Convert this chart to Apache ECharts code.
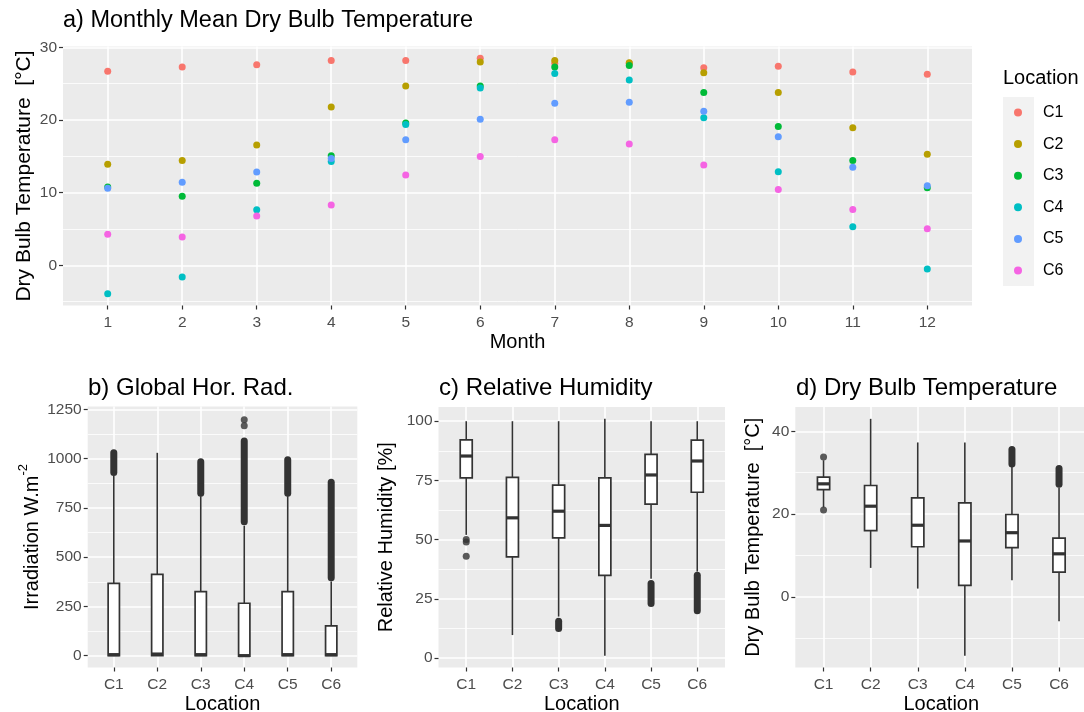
<!DOCTYPE html>
<html>
<head>
<meta charset="utf-8">
<script src="https://cdn.jsdelivr.net/npm/echarts@6/dist/echarts.min.js"></script>
<style>
  html, body { margin: 0; padding: 0; background: #ffffff; }
  #chart { width: 1084px; height: 712px; }
</style>
</head>
<body>
<div id="chart"></div>
<script>
// ---- Monthly mean dry bulb temperature (°C) per location ----
const months = [1, 2, 3, 4, 5, 6, 7, 8, 9, 10, 11, 12];
const locations = ['C1', 'C2', 'C3', 'C4', 'C5', 'C6'];
const locationColors = ['#F8766D', '#B79F00', '#00BA38', '#00BFC4', '#619CFF', '#F564E3'];

const meanTempC1 = [26.7, 27.3, 27.6, 28.2, 28.2, 28.5, 27.8, 27.8, 27.2, 27.4, 26.6, 26.3];
const meanTempC2 = [13.9, 14.45, 16.55, 21.8, 24.7, 28.0, 28.2, 27.9, 26.5, 23.8, 18.95, 15.3];
const meanTempC3 = [10.8, 9.5, 11.3, 15.1, 19.6, 24.7, 27.3, 27.5, 23.8, 19.1, 14.45, 10.7];
const meanTempC4 = [-3.9, -1.6, 7.65, 14.3, 19.4, 24.4, 26.4, 25.5, 20.3, 12.9, 5.3, -0.5];
const meanTempC5 = [10.6, 11.45, 12.85, 14.7, 17.3, 20.1, 22.3, 22.45, 21.2, 17.7, 13.5, 10.95];
const meanTempC6 = [4.3, 3.9, 6.8, 8.3, 12.45, 15.0, 17.3, 16.7, 13.8, 10.45, 7.7, 5.05];
const meanTempByLocation = [meanTempC1, meanTempC2, meanTempC3, meanTempC4, meanTempC5, meanTempC6];

// ---- Box statistics: [lower whisker, Q1, median, Q3, upper whisker] ----
const ghiBoxStats = [
  [0, 0, 5, 367, 915],
  [0, 0, 8, 413, 1030],
  [0, 0, 5, 325, 810],
  [-3, -3, 0, 266, 660],
  [0, 0, 5, 325, 810],
  [0, 0, 5, 151, 377]
];
// runs of overlapping outliers: [location index, lowest, highest]
const ghiOutlierRuns = [[0, 930, 1030], [2, 825, 985], [3, 680, 1090], [4, 825, 995], [5, 395, 880]];
const ghiOutlierPoints = [[3, 1168], [3, 1198]];

const rhBoxStats = [
  [52, 76.1, 85.3, 92.1, 100],
  [9.7, 42.7, 59.2, 76.3, 100],
  [17.5, 50.7, 62, 73, 100],
  [1, 34.9, 56, 76.1, 101],
  [33.5, 65, 77.3, 86, 100],
  [36.5, 70, 83.2, 92, 100]
];
const rhOutlierRuns = [[2, 12.5, 15.5], [4, 23, 31.5], [5, 20, 35]];
const rhOutlierPoints = [[0, 49], [0, 50], [0, 43]];

const dbtBoxStats = [
  [21.6, 25.9, 27.3, 28.9, 33.0],
  [7.0, 16.0, 21.9, 26.9, 43.0],
  [2.0, 12.1, 17.3, 23.9, 37.3],
  [-14.2, 2.8, 13.5, 22.7, 37.3],
  [4.0, 11.9, 15.5, 19.9, 31.7],
  [-5.9, 6.0, 10.4, 14.2, 26.4]
];
const dbtOutlierRuns = [[4, 32.1, 35.6], [5, 27.2, 31.0]];
const dbtOutlierPoints = [[0, 33.8], [0, 21.0]];

// ---- Tick values ----
const tempMajorTicks = [0, 10, 20, 30];
const tempMinorTicks = [-5, 5, 15, 25];
const ghiMajorTicks = [0, 250, 500, 750, 1000, 1250];
const ghiMinorTicks = [125, 375, 625, 875, 1125];
const rhMajorTicks = [0, 25, 50, 75, 100];
const rhMinorTicks = [12.5, 37.5, 62.5, 87.5];
const dbtMajorTicks = [0, 20, 40];
const dbtMinorTicks = [-10, 10, 30];
const locationTicks = [1, 2, 3, 4, 5, 6];

// ---- Styling ----
const FONT = "'Liberation Sans', Arial, sans-serif";
const PANEL_BG = '#EBEBEB';
const TICK_TEXT = '#4D4D4D';
const INK = '#333333';
const BOX_WIDTH_RATIO = 0.26;

const chart = echarts.init(document.getElementById('chart'), null, { renderer: 'canvas' });

function xAxisFor(gridIndex, min, max, ticks, name, formatter, nameGap, nameSize) {
  return {
    type: 'value', gridIndex, min, max,
    name, nameLocation: 'middle', nameGap,
    nameTextStyle: { color: '#000', fontSize: nameSize, fontFamily: FONT },
    axisLine: { show: false, onZero: false },
    axisTick: { show: true, customValues: ticks, length: 4, lineStyle: { color: INK, width: 1.2 } },
    axisLabel: { customValues: ticks, formatter, color: TICK_TEXT, fontSize: 15.5, fontFamily: FONT, margin: 9 },
    splitLine: { show: true, lineStyle: { color: '#ffffff', width: 1.6 } },
    minorSplitLine: { show: false }
  };
}

function yMajorAxis(gridIndex, min, max, ticks, name, nameGap, nameSize, rich, extra) {
  return Object.assign({
    type: 'value', gridIndex, min, max,
    name, nameLocation: 'middle', nameGap, nameRotate: 90,
    nameTextStyle: { color: '#000', fontSize: nameSize, fontFamily: FONT, rich },
    axisLine: { show: false, onZero: false },
    axisTick: { show: true, customValues: ticks, length: 4, lineStyle: { color: INK, width: 1.2 } },
    axisLabel: { customValues: ticks, formatter: v => String(v), color: TICK_TEXT, fontSize: 15.5, fontFamily: FONT, margin: 6 },
    splitLine: { show: true, lineStyle: { color: '#ffffff', width: 1.6 } }
  }, extra || {});
}

function yMinorAxis(gridIndex, min, max, ticks) {
  return {
    type: 'value', gridIndex, min, max,
    axisLine: { show: false, onZero: false },
    axisTick: { show: false, customValues: ticks },
    axisLabel: { show: false, customValues: ticks },
    splitLine: { show: true, lineStyle: { color: '#ffffff', width: 0.8 } }
  };
}

function boxRenderItem(params, api) {
  const x = api.value(0);
  const pts = [1, 2, 3, 4, 5].map(d => api.coord([x, api.value(d)]));
  const bw = api.size([1, 0])[0] * BOX_WIDTH_RATIO;
  const cx = pts[0][0];
  const stroke = { stroke: INK, lineWidth: 1.6 };
  return {
    type: 'group',
    children: [
      { type: 'line', shape: { x1: cx, y1: pts[0][1], x2: cx, y2: pts[1][1] }, style: stroke },
      { type: 'line', shape: { x1: cx, y1: pts[3][1], x2: cx, y2: pts[4][1] }, style: stroke },
      { type: 'rect', shape: { x: cx - bw / 2, y: pts[3][1], width: bw, height: pts[1][1] - pts[3][1] },
        style: { fill: '#ffffff', stroke: INK, lineWidth: 1.7 } },
      { type: 'line', shape: { x1: cx - bw / 2, y1: pts[2][1], x2: cx + bw / 2, y2: pts[2][1] },
        style: { stroke: INK, lineWidth: 3.2 } }
    ]
  };
}

function runRenderItem(params, api) {
  const x = api.value(0);
  const a = api.coord([x, api.value(1)]);
  const b = api.coord([x, api.value(2)]);
  return {
    type: 'line',
    shape: { x1: a[0], y1: a[1], x2: b[0], y2: b[1] },
    style: { stroke: INK, lineWidth: 7, lineCap: 'round' }
  };
}

function boxSeries(xAxisIndex, yAxisIndex, stats, runs, points) {
  return [
    {
      type: 'custom', xAxisIndex, yAxisIndex, silent: true, z: 3,
      renderItem: runRenderItem,
      encode: { x: 0, y: [1, 2] },
      data: runs.map(r => [r[0] + 1, r[1], r[2]])
    },
    {
      type: 'scatter', xAxisIndex, yAxisIndex, silent: true, z: 3,
      symbolSize: 7, itemStyle: { color: INK },
      data: points.map(p => [p[0] + 1, p[1]])
    },
    {
      type: 'custom', xAxisIndex, yAxisIndex, silent: true, z: 4,
      renderItem: boxRenderItem,
      encode: { x: 0, y: [1, 2, 3, 4, 5] },
      data: stats.map((s, i) => [i + 1].concat(s))
    }
  ];
}

const locFormatter = v => locations[Math.round(v) - 1] || '';
const titleStyle = size => ({ fontSize: size, fontWeight: 'normal', color: '#000', fontFamily: FONT });

const option = {
  animation: false,
  backgroundColor: '#ffffff',
  textStyle: { fontFamily: FONT },
  title: [
    { text: 'a) Monthly Mean Dry Bulb Temperature', left: 63, top: 9, padding: 0, textStyle: titleStyle(23.5) },
    { text: 'Location', left: 1003, top: 68, padding: 0, textStyle: titleStyle(20) },
    { text: 'b) Global Hor. Rad.', left: 88, top: 376, padding: 0, textStyle: titleStyle(24) },
    { text: 'c) Relative Humidity', left: 439, top: 376, padding: 0, textStyle: titleStyle(24) },
    { text: 'd) Dry Bulb Temperature', left: 796, top: 376, padding: 0, textStyle: titleStyle(24) }
  ],
  legend: {
    orient: 'vertical', left: 1014, top: 104, padding: 0,
    itemWidth: 8, itemHeight: 8, itemGap: 14.6, icon: 'circle',
    data: locations,
    textStyle: { fontSize: 16, lineHeight: 17, color: '#000', fontFamily: FONT, padding: [0, 0, 0, 16] }
  },
  graphic: [
    { type: 'rect', z: -1, silent: true, shape: { x: 1003, y: 97, width: 31, height: 189 },
      style: { fill: '#F2F2F2' } }
  ],
  grid: [
    { left: 63, top: 46.5, width: 909, height: 259, show: true, backgroundColor: PANEL_BG, borderWidth: 0,
      containLabel: false, outerBoundsMode: 'none' },
    { left: 87.7, top: 406.5, width: 269.6, height: 261, show: true, backgroundColor: PANEL_BG, borderWidth: 0,
      containLabel: false, outerBoundsMode: 'none' },
    { left: 438.5, top: 407, width: 286.5, height: 260.5, show: true, backgroundColor: PANEL_BG, borderWidth: 0,
      containLabel: false, outerBoundsMode: 'none' },
    { left: 795.3, top: 407, width: 292, height: 260.5, show: true, backgroundColor: PANEL_BG, borderWidth: 0,
      containLabel: false, outerBoundsMode: 'none' }
  ],
  xAxis: [
    xAxisFor(0, 0.4, 12.6, months, 'Month', v => String(v), 27, 20),
    xAxisFor(1, 0.4, 6.6, locationTicks, 'Location', locFormatter, 27, 20),
    xAxisFor(2, 0.4, 6.6, locationTicks, 'Location', locFormatter, 27, 20),
    xAxisFor(3, 0.4, 6.6, locationTicks, 'Location', locFormatter, 27, 20)
  ],
  yAxis: [
    yMajorAxis(0, -5.52, 30.12, tempMajorTicks, 'Dry Bulb Temperature  [°C]', 28, 21, undefined,
      { nameMoveOverlap: false }),
    yMinorAxis(0, -5.52, 30.12, tempMinorTicks),
    yMajorAxis(1, -60.25, 1265.25, ghiMajorTicks, '{t|Irradiation W.m}{s|-2}', 45, 20, {
      t: { fontSize: 20, fontFamily: FONT, color: '#000', lineHeight: 26, verticalAlign: 'bottom' },
      s: { fontSize: 13, fontFamily: FONT, color: '#000', lineHeight: 26, verticalAlign: 'top' }
    }),
    yMinorAxis(1, -60.25, 1265.25, ghiMinorTicks),
    yMajorAxis(2, -4, 106, rhMajorTicks, 'Relative Humidity [%]', 42, 20),
    yMinorAxis(2, -4, 106, rhMinorTicks),
    yMajorAxis(3, -17.06, 45.86, dbtMajorTicks, 'Dry Bulb Temperature  [°C]', 32, 20),
    yMinorAxis(3, -17.06, 45.86, dbtMinorTicks)
  ],
  series: [
    ...meanTempByLocation.map((vals, i) => ({
      name: locations[i], type: 'scatter', xAxisIndex: 0, yAxisIndex: 0,
      symbolSize: 7, itemStyle: { color: locationColors[i], opacity: 1 },
      data: months.map((m, k) => [m, vals[k]])
    })),
    ...boxSeries(1, 2, ghiBoxStats, ghiOutlierRuns, ghiOutlierPoints),
    ...boxSeries(2, 4, rhBoxStats, rhOutlierRuns, rhOutlierPoints),
    ...boxSeries(3, 6, dbtBoxStats, dbtOutlierRuns, dbtOutlierPoints)
  ]
};

chart.setOption(option);
</script>
</body>
</html>
